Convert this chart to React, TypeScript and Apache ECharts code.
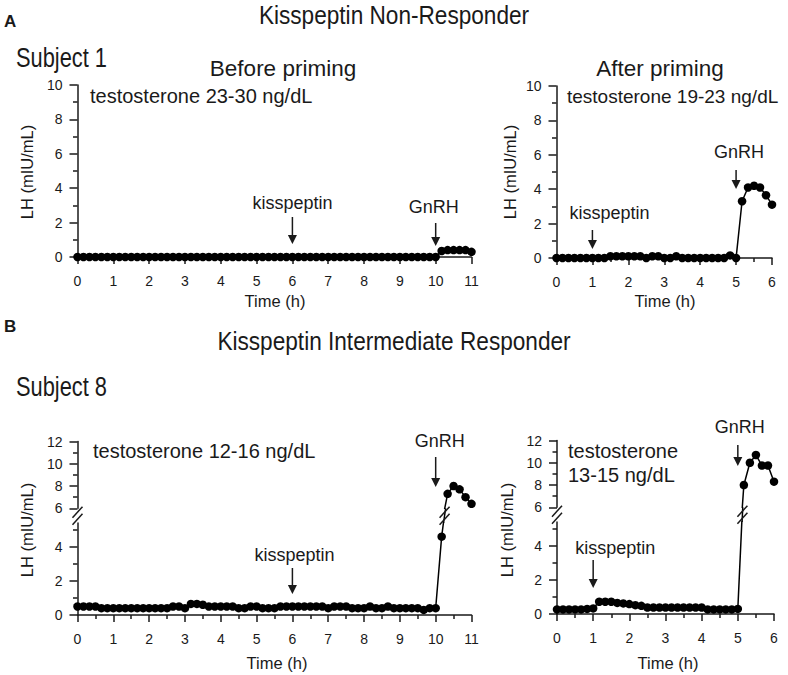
import React, { useEffect, useRef } from "react";
import * as echarts from "echarts";

// ---------- DATA (time in minutes, LH in mIU/mL) ----------
const timeS1Before = [0,10,20,30,40,50,60,70,80,90,100,110,120,130,140,150,160,170,180,190,200,210,220,230,240,250,260,270,280,290,300,310,320,330,340,350,360,370,380,390,400,410,420,430,440,450,460,470,480,490,500,510,520,530,540,550,560,570,580,590,600,610,620,630,640,650,660];
const lhS1Before = [0,0,0,0,0,0,0,0,0,0,0,0,0,0,0,0,0,0,0,0,0,0,0,0,0,0,0,0,0,0,0,0,0,0,0,0,0,0,0,0,0,0,0,0,0,0,0,0,0,0,0,0,0,0,0,0,0,0,0,0,0,0.35,0.4,0.4,0.4,0.4,0.3];

const timeS1After = [0,10,20,30,40,50,60,70,80,90,100,110,120,130,140,150,160,170,180,190,200,210,220,230,240,250,260,270,280,290,300,310,320,330,340,350,360];
const lhS1After = [0,0,0,0,0,0,0,0,0,0.1,0.1,0.1,0.1,0.1,0.1,0,0.1,0.1,0,0,0.1,0,0,0,0,0,0,0,0,0.15,0,3.3,4.1,4.2,4.1,3.65,3.1];

const timeS8Before = [0,10,20,30,40,50,60,70,80,90,100,110,120,130,140,150,160,170,180,190,200,210,220,230,240,250,260,270,280,290,300,310,320,330,340,350,360,370,380,390,400,410,420,430,440,450,460,470,480,490,500,510,520,530,540,550,560,570,580,590,600,610,620,630,640,650,660];
const lhS8Before = [0.5,0.5,0.5,0.5,0.4,0.4,0.4,0.4,0.4,0.4,0.4,0.4,0.4,0.4,0.4,0.4,0.5,0.5,0.4,0.65,0.65,0.6,0.5,0.5,0.5,0.5,0.5,0.4,0.4,0.5,0.5,0.4,0.4,0.4,0.5,0.5,0.5,0.5,0.5,0.5,0.5,0.5,0.4,0.5,0.5,0.5,0.4,0.4,0.4,0.5,0.4,0.4,0.5,0.4,0.4,0.4,0.4,0.4,0.3,0.4,0.4,4.6,7.3,8.0,7.7,7.0,6.4];

const timeS8After = [0,10,20,30,40,50,60,70,80,90,100,110,120,130,140,150,160,170,180,190,200,210,220,230,240,250,260,270,280,290,300,310,320,330,340,350,360];
const lhS8After = [0.27,0.27,0.27,0.27,0.27,0.3,0.33,0.72,0.72,0.72,0.65,0.62,0.58,0.52,0.48,0.38,0.38,0.38,0.38,0.38,0.38,0.38,0.38,0.38,0.38,0.27,0.27,0.27,0.27,0.27,0.3,8.0,10.0,10.7,9.75,9.75,8.3];

const xTicks11 = [0,1,2,3,4,5,6,7,8,9,10,11];
const xTicks6 = [0,1,2,3,4,5,6];
const yTicksLower = [0,2,4];
const yMinorLower = [1,3,5];

// event times in hours
const kissS1Before = 6, gnrhS1Before = 10;
const kissS1After = 1, gnrhS1After = 5;
const kissS8Before = 6, gnrhS8Before = 10;
const kissS8After = 1, gnrhS8After = 5;

const FONT = "'Liberation Sans', Arial, Helvetica, sans-serif";
const INK = "#1a1a1a";

const toPairs = (t: number[], v: number[]) => t.map((m, i) => [m / 60, v[i]]);

export default function App() {
  const ref = useRef<HTMLDivElement>(null);
  useEffect(() => {
    const el = ref.current!;
    const chart = echarts.init(el, null, { renderer: "svg" });

    const grids = [
      { left: 77.5, top: 85, width: 394, height: 172 },     // 0 S1 before
      { left: 556.5, top: 86, width: 215.5, height: 172 },  // 1 S1 after
      { left: 77.5, top: 523, width: 394, height: 92 },     // 2 S8 before lower
      { left: 77.5, top: 441.5, width: 394, height: 66.8 }, // 3 S8 before upper
      { left: 557, top: 522, width: 217, height: 92 },      // 4 S8 after lower
      { left: 557, top: 440.5, width: 217, height: 66.8 },  // 5 S8 after upper
    ];
    const lowerMax = 5.4;

    const axisLine = { show: true, lineStyle: { color: INK, width: 1.5 } };
    const tickStyle = { color: INK, width: 1.5 };
    const labelStyle = { color: INK, fontSize: 14, fontFamily: FONT };

    const xAxisFor = (gi: number, max: number, ticks: number[], minor: boolean, show: boolean) => ({
      type: "value", gridIndex: gi, min: 0, max, interval: 1, show,
      axisLine, splitLine: { show: false },
      axisTick: { show: true, length: 7, lineStyle: tickStyle },
      minorTick: { show: minor, splitNumber: 2, length: 4, lineStyle: tickStyle },
      axisLabel: { ...labelStyle, margin: 17, customValues: ticks },
    });

    const xAxis: any[] = [
      xAxisFor(0, 11, xTicks11, false, true),
      xAxisFor(1, 6, xTicks6, true, true),
      xAxisFor(2, 11, xTicks11, true, true),
      xAxisFor(3, 11, xTicks11, false, false),
      xAxisFor(4, 6, xTicks6, true, true),
      xAxisFor(5, 6, xTicks6, false, false),
    ];

    const fullAxis = (gi: number) => ({
      type: "value", gridIndex: gi, min: 0, max: 10, interval: 2, axisLine, splitLine: { show: false },
      axisTick: { show: true, length: 8, lineStyle: tickStyle },
      minorTick: { show: true, splitNumber: 2, length: 4.5, lineStyle: tickStyle },
      axisLabel: { ...labelStyle, margin: 15 },
    });
    const lowerAxes = (gi: number) => [
      { type: "value", gridIndex: gi, min: 0, max: lowerMax, axisLine, splitLine: { show: false },
        axisTick: { show: true, length: 8, lineStyle: tickStyle, customValues: yTicksLower },
        axisLabel: { ...labelStyle, margin: 15, customValues: yTicksLower } },
      { type: "value", gridIndex: gi, min: 0, max: lowerMax, position: "left", axisLine: { show: false },
        splitLine: { show: false },
        axisTick: { show: true, length: 4.5, lineStyle: tickStyle, customValues: yMinorLower },
        axisLabel: { show: false } },
    ];
    const upperAxis = (gi: number) => ({
      type: "value", gridIndex: gi, min: 6, max: 12, interval: 2, axisLine, splitLine: { show: false },
      axisTick: { show: true, length: 8, lineStyle: tickStyle },
      minorTick: { show: true, splitNumber: 2, length: 4.5, lineStyle: tickStyle },
      axisLabel: { ...labelStyle, margin: 15 },
    });
    // yAxis indices: 0 TL, 1 TR, 2-3 BL lower, 4 BL upper, 5-6 BR lower, 7 BR upper
    const yAxis: any[] = [fullAxis(0), fullAxis(1), ...lowerAxes(2), upperAxis(3), ...lowerAxes(4), upperAxis(5)];

    const lineSeries = (xi: number, yi: number, data: number[][], clip: boolean) => ({
      type: "line", xAxisIndex: xi, yAxisIndex: yi, data, clip,
      symbol: "circle", symbolSize: 8.5, showSymbol: true,
      itemStyle: { color: "#000" }, lineStyle: { color: "#000", width: 1.5 },
      emphasis: { disabled: true }, z: 5,
    });

    const s1b = toPairs(timeS1Before, lhS1Before);
    const s1a = toPairs(timeS1After, lhS1After);
    const s8b = toPairs(timeS8Before, lhS8Before);
    const s8a = toPairs(timeS8After, lhS8After);

    const series = [
      lineSeries(0, 0, s1b, false),
      lineSeries(1, 1, s1a, false),
      lineSeries(2, 2, s8b, true),
      lineSeries(3, 4, s8b, true),
      lineSeries(4, 5, s8a, true),
      lineSeries(5, 7, s8a, true),
    ];

    chart.setOption({
      animation: false,
      backgroundColor: "#fff",
      grid: grids.map((g) => ({ ...g, containLabel: false })),
      xAxis, yAxis, series,
    });

    const px = (gi: number, x: number, y: number) =>
      chart.convertToPixel({ gridIndex: gi } as any, [x, y]) as number[];

    const g: any[] = [];
    const text = (x: number, y: number, s: string, size: number, opts: any = {}) => {
      g.push({
        type: "text", x, y, rotation: opts.rotation || 0, scaleX: opts.sx || 1, z: 10,
        style: {
          text: s, fill: INK, fontFamily: FONT, fontSize: size,
          fontWeight: opts.bold ? "bold" : "normal",
          textAlign: opts.align || "center", textVerticalAlign: "middle",
        },
      });
    };
    const arrow = (x: number, y1: number, y2: number) => {
      g.push({ type: "line", z: 10, shape: { x1: x, y1, x2: x, y2: y2 - 6 }, style: { stroke: INK, lineWidth: 1.5 } });
      g.push({ type: "polygon", z: 10, shape: { points: [[x - 4.5, y2 - 9], [x + 4.5, y2 - 9], [x, y2]] }, style: { fill: INK } });
    };
    const slash = (x: number, y: number) => {
      g.push({ type: "line", z: 11, shape: { x1: x - 5, y1: y + 2, x2: x + 5, y2: y - 9 }, style: { stroke: INK, lineWidth: 1.5 } });
      g.push({ type: "line", z: 11, shape: { x1: x - 5, y1: y + 9, x2: x + 5, y2: y - 2 }, style: { stroke: INK, lineWidth: 1.5 } });
    };

    // headings
    text(4, 21, "A", 17, { bold: true, align: "left" });
    text(394, 15, "Kisspeptin Non-Responder", 26, { sx: 0.87 });
    text(16, 57, "Subject 1", 28, { align: "left", sx: 0.78 });
    text(283, 68, "Before priming", 22.5);
    text(660, 68, "After priming", 22.5);
    text(4, 326, "B", 17, { bold: true, align: "left" });
    text(394, 341, "Kisspeptin Intermediate Responder", 26, { sx: 0.87 });
    text(16, 386, "Subject 8", 28, { align: "left", sx: 0.78 });

    // testosterone notes
    text(90, 96, "testosterone 23-30 ng/dL", 20, { align: "left" });
    text(567, 96, "testosterone 19-23 ng/dL", 19, { align: "left" });
    text(93, 451, "testosterone 12-16 ng/dL", 20, { align: "left" });
    text(568, 451, "testosterone", 20, { align: "left" });
    text(568, 475, "13-15 ng/dL", 20, { align: "left" });

    // axis names
    const yName = (x: number, y: number) => text(x, y, "LH (mIU/mL)", 16.5, { rotation: Math.PI / 2 });
    yName(27, 172); yName(510, 172); yName(27, 530); yName(507, 530);
    text(275, 301, "Time (h)", 16.5);
    text(665, 301, "Time (h)", 16.5);
    text(277, 663, "Time (h)", 16.5);
    text(668, 663, "Time (h)", 16.5);

    // event annotations
    const events = [
      { gi: 0, t: kissS1Before, label: "kisspeptin", ty: 203, dx: 0, a1: 217, a2: 244 },
      { gi: 0, t: gnrhS1Before, label: "GnRH", ty: 207, dx: -2, a1: 223, a2: 246 },
      { gi: 1, t: kissS1After, label: "kisspeptin", ty: 213, dx: 17, a1: 230, a2: 249 },
      { gi: 1, t: gnrhS1After, label: "GnRH", ty: 152, dx: 3, a1: 170, a2: 189 },
      { gi: 2, t: kissS8Before, label: "kisspeptin", ty: 555, dx: 2, a1: 568, a2: 594 },
      { gi: 2, t: gnrhS8Before, label: "GnRH", ty: 441, dx: 4, a1: 457, a2: 487 },
      { gi: 4, t: kissS8After, label: "kisspeptin", ty: 548, dx: 22, a1: 560, a2: 588 },
      { gi: 4, t: gnrhS8After, label: "GnRH", ty: 427, dx: 2, a1: 445, a2: 466 },
    ];
    events.forEach((e) => {
      const x = px(e.gi, e.t, 0)[0];
      text(x + e.dx, e.ty, e.label, 18);
      arrow(x, e.a1, e.a2);
    });

    // axis breaks
    const breaks = [
      { lo: 2, up: 3, data: s8b },
      { lo: 4, up: 5, data: s8a },
    ];
    breaks.forEach((b) => {
      const lowTop = px(b.lo, 0, lowerMax);
      const upBot = px(b.up, 0, 6);
      const midY = (lowTop[1] + upBot[1]) / 2;
      slash(lowTop[0], midY);
      for (let i = 0; i < b.data.length - 1; i++) {
        const [t0, v0] = b.data[i];
        const [t1, v1] = b.data[i + 1];
        if (v0 <= lowerMax && v1 >= 6) {
          const A = px(b.lo, t0, v0);
          const B = px(b.up, t1, v1);
          const at = (y: number) => A[0] + (B[0] - A[0]) * ((A[1] - y) / (A[1] - B[1]));
          g.push({ type: "line", z: 4, shape: { x1: at(lowTop[1]), y1: lowTop[1], x2: at(upBot[1]), y2: upBot[1] }, style: { stroke: "#000", lineWidth: 1.5 } });
          slash(at(midY), midY);
        }
      }
    });

    chart.setOption({ graphic: g });

    return () => chart.dispose();
  }, []);

  return <div ref={ref} style={{ width: 788, height: 675, position: "absolute", left: 0, top: 0 }} />;
}
